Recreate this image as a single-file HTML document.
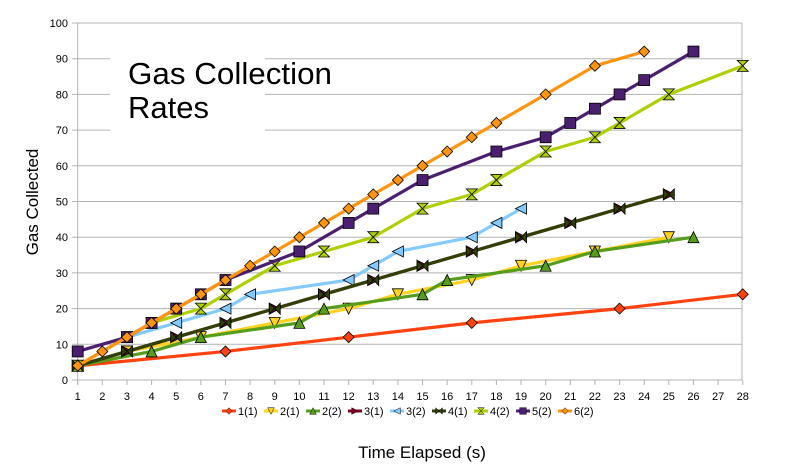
<!DOCTYPE html>
<html><head><meta charset="utf-8"><style>
html,body{margin:0;padding:0;background:#fff;}
svg{display:block;font-family:"Liberation Sans",sans-serif;}
</style></head><body>
<svg id="s" width="785" height="469" viewBox="0 0 785 469" xmlns="http://www.w3.org/2000/svg">
<rect width="785" height="469" fill="#fff"/>
<g id="grid"></g>
<g id="series"></g>
<rect x="110" y="52" width="155" height="80" fill="#fff"/>
<text x="128" y="84" font-size="31" fill="#000" textLength="204" lengthAdjust="spacingAndGlyphs">Gas Collection</text>
<text x="128" y="118" font-size="31" fill="#000">Rates</text>
<text x="422" y="458" font-size="17" text-anchor="middle" fill="#000">Time Elapsed (s)</text>
<text transform="translate(38,202) rotate(-90)" font-size="17" text-anchor="middle" fill="#000">Gas Collected</text>
<g id="legend"></g>
</svg>
<script>
const NS="http://www.w3.org/2000/svg";
const X=i=>77.7+(i-1)*24.63, Y=v=>380-v*3.57;
function el(t,a,p){const e=document.createElementNS(NS,t);for(const k in a)e.setAttribute(k,a[k]);p.appendChild(e);return e;}
const g=document.getElementById('grid');
for(let v=0;v<=100;v+=10){
 el('line',{x1:72,x2:742,y1:Y(v),y2:Y(v),stroke:'#b3b3b3','stroke-width':1},g);
 const t=el('text',{x:68,y:Y(v)+4,'font-size':11,'text-anchor':'end',fill:'#000'},g);t.textContent=v;
}
el('line',{x1:742,x2:742,y1:Y(100),y2:380,stroke:'#b3b3b3'},g);
el('line',{x1:77.7,x2:77.7,y1:Y(100),y2:384,stroke:'#b3b3b3'},g);
for(let i=1;i<=28;i++){
 el('line',{x1:X(i),x2:X(i),y1:380,y2:385,stroke:'#b3b3b3'},g);
 const t=el('text',{x:X(i),y:400,'font-size':11,'text-anchor':'middle',fill:'#000'},g);t.textContent=i;
}
function marker(type,x,y,fill,p){
 const s=5.5,a={fill:fill,stroke:'#000','stroke-width':0.8};
 let pts;
 switch(type){
  case 'dia':pts=[[x,y-s],[x+s,y],[x,y+s],[x-s,y]];break;
  case 'down':pts=[[x-s,y-s],[x+s,y-s],[x,y+s]];break;
  case 'up':pts=[[x-s,y+s],[x+s,y+s],[x,y-s]];break;
  case 'right':pts=[[x-s,y-s],[x+s,y],[x-s,y+s]];break;
  case 'left':pts=[[x+s,y-s],[x-s,y],[x+s,y+s]];break;
  case 'bow':pts=[[x-s,y-s],[x+s,y+s],[x+s,y-s],[x-s,y+s]];break;
  case 'hour':pts=[[x-s,y-s],[x+s,y-s],[x-s,y+s],[x+s,y+s]];break;
  case 'sq':el('rect',Object.assign({x:x-s,y:y-s,width:2*s,height:2*s},a),p);return;
 }
 el('polygon',Object.assign({points:pts.map(q=>q.join(',')).join(' ')},a),p);
}
const S=[
 ['1(1)','#ff420e','dia',[[1,4],[7,8],[12,12],[17,16],[23,20],[28,24]]],
 ['2(1)','#ffd320','down',[[1,4],[3,8],[6,12],[9,16],[12,20],[14,24],[17,28],[19,32],[22,36],[25,40]]],
 ['2(2)','#579d1c','up',[[1,4],[4,8],[6,12],[10,16],[11,20],[15,24],[16,28],[20,32],[22,36],[26,40]]],
 ['3(1)','#7e0021','right',[[1,4],[3,8],[5,12],[7,16],[9,20],[11,24],[13,28],[15,32],[17,36],[19,40],[21,44],[23,48],[25,52]]],
 ['3(2)','#83caff','left',[[1,4],[3,12],[5,16],[7,20],[8,24],[12,28],[13,32],[14,36],[17,40],[18,44],[19,48]]],
 ['4(1)','#314004','bow',[[1,4],[3,8],[5,12],[7,16],[9,20],[11,24],[13,28],[15,32],[17,36],[19,40],[21,44],[23,48],[25,52]]],
 ['4(2)','#aecf00','hour',[[1,4],[3,12],[4,16],[6,20],[7,24],[9,32],[11,36],[13,40],[15,48],[17,52],[18,56],[20,64],[22,68],[23,72],[25,80],[28,88]]],
 ['5(2)','#4b1f6f','sq',[[1,8],[3,12],[4,16],[5,20],[6,24],[7,28],[10,36],[12,44],[13,48],[15,56],[18,64],[20,68],[21,72],[22,76],[23,80],[24,84],[26,92]]],
 ['6(2)','#ff950e','dia',[[1,4],[2,8],[3,12],[4,16],[5,20],[6,24],[7,28],[8,32],[9,36],[10,40],[11,44],[12,48],[13,52],[14,56],[15,60],[16,64],[17,68],[18,72],[20,80],[22,88],[24,92]]]
];
const sg=document.getElementById('series'),lg=document.getElementById('legend');
let lx=222;
S.forEach(([n,c,m,d])=>{
 const gg=el('g',{},sg);
 el('polyline',{points:d.map(p=>X(p[0])+','+Y(p[1])).join(' '),fill:'none',stroke:c,'stroke-width':3.2,'stroke-linejoin':'round'},gg);
 d.forEach(p=>marker(m,X(p[0]),Y(p[1]),c,gg));
 el('line',{x1:lx,x2:lx+14,y1:411,y2:411,stroke:c,'stroke-width':3},lg);
 const lm=el('g',{transform:`translate(${lx+7},411) scale(0.6) translate(${-(lx+7)},-411)`},lg);
 marker(m,lx+7,411,c,lm);
 const t=el('text',{x:lx+16,y:415,'font-size':11,fill:'#000'},lg);t.textContent=n;
 lx+=42;
});
</script>
</body></html>
